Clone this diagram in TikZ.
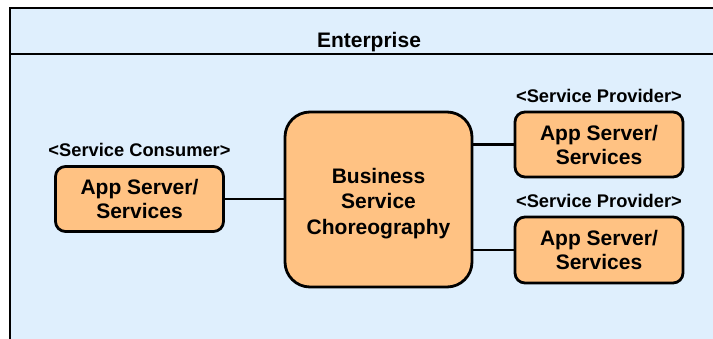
\documentclass[tikz,border=0pt]{standalone}
\usepackage{fontspec}
\setmainfont{Liberation Sans}
\usetikzlibrary{positioning}
\definecolor{entblue}{HTML}{DFEFFD}
\definecolor{apporange}{HTML}{FFC283}

\begin{document}
\begin{tikzpicture}[
    x=1pt, y=-1pt,
    node distance=8pt,
    frame/.style={draw, line width=2pt},
    server/.style={rectangle, draw, line width=2.8pt, fill=apporange, rounded corners=10pt, align=center, font=\bfseries\fontsize{21}{24}\selectfont, minimum width=168pt, minimum height=65pt},
    role/.style={inner sep=0pt, font=\bfseries\fontsize{18.3}{20}\selectfont},
    line/.style={draw, line width=2.8pt}
]
    \useasboundingbox (0,0) rectangle (713,339);
    \fill [entblue] (10,8) rectangle (740,360);
    \draw [frame] (740,8) -- (10,8) -- (10,360);
    \draw [frame] (10,54) -- (740,54);
    \node [anchor=base, font=\bfseries\fontsize{21}{24}\selectfont] (title) at (369,48) {Enterprise};

    \node [server] (consumer) at (139.5,199) {App Server/\\Services};
    \node [server, minimum width=187pt, minimum height=175pt, rounded corners=25pt, font=\bfseries\fontsize{21}{25.5}\selectfont] (choreo) at (378.5,199.5) {\rule{0pt}{23pt}Business\\Service\\Choreography};
    \node [server] (provider1) at (599,144.5) {App Server/\\Services};
    \node [server, minimum height=66pt] (provider2) at (599,250) {App Server/\\Services};

    \node [role, above=of consumer] (consumerrole) {<Service Consumer>};
    \node [role, above=of provider1] (provider1role) {<Service Provider>};
    \node [role, above=of provider2] (provider2role) {<Service Provider>};

    \path [line] (consumer) -- (consumer -| choreo.west);
    \path [line] (provider1.west -| choreo.east) -- (provider1.west);
    \path [line] (provider2.west -| choreo.east) -- (provider2.west);
\end{tikzpicture}
\end{document}
